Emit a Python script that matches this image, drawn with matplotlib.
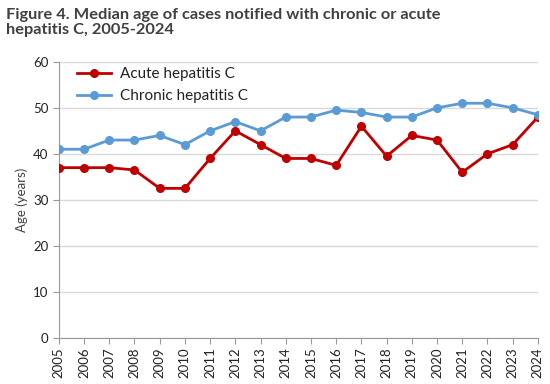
import matplotlib
matplotlib.use("Agg")
import matplotlib.pyplot as plt

# median age by year
years = list(range(2005, 2025))
acute = [37, 37, 37, 36.5, 32.5, 32.5, 39, 45, 42, 39,
         39, 37.5, 46, 39.5, 44, 43, 36, 40, 42, 48]
chronic = [41, 41, 43, 43, 44, 42, 45, 47, 45, 48,
           48, 49.5, 49, 48, 48, 50, 51, 51, 50, 48.5]

plt.rcParams['font.family'] = ['Lato', 'DejaVu Sans']

fig = plt.figure(figsize=(5.5, 3.84), dpi=100)
ax = fig.add_axes([0.107, 0.12, 0.871, 0.719])

ax.plot(years, acute, color='#C00000', lw=2, marker='o', ms=5.5, label='Acute hepatitis C', zorder=3)
ax.plot(years, chronic, color='#5B9BD5', lw=2, marker='o', ms=5.5, label='Chronic hepatitis C', zorder=3)

ax.set_xlim(2005, 2024)
ax.set_ylim(0, 60)
ax.set_yticks(range(0, 61, 10))
ax.set_xticks(years)
ax.set_xticklabels([str(y) for y in years], rotation=90, fontsize=9.5, color='#222222')
ax.tick_params(axis='y', labelsize=9.5, labelcolor='#222222', length=4, color='#999999')
ax.tick_params(axis='x', length=4, color='#999999', pad=3)
ax.yaxis.grid(True, color='#d9d9d9', lw=1)
ax.set_axisbelow(True)
for s in ['top', 'right']:
    ax.spines[s].set_visible(False)
for s in ['left', 'bottom']:
    ax.spines[s].set_color('#999999')
ax.set_ylabel('Age (years)', fontsize=9.5, color='#404040')

leg = ax.legend(loc='upper left', frameon=False, fontsize=11, bbox_to_anchor=(0.01, 1.03),
                handlelength=2.2, handletextpad=0.6, labelspacing=0.5)
for t in leg.get_texts():
    t.set_color('#222222')

fig.text(0.01, 0.98, 'Figure 4. Median age of cases notified with chronic or acute\nhepatitis C, 2005-2024',
         fontsize=11.8, fontweight='bold', color='#404040', va='top', ha='left', linespacing=1.1)

fig.savefig('out.png', dpi=100)
